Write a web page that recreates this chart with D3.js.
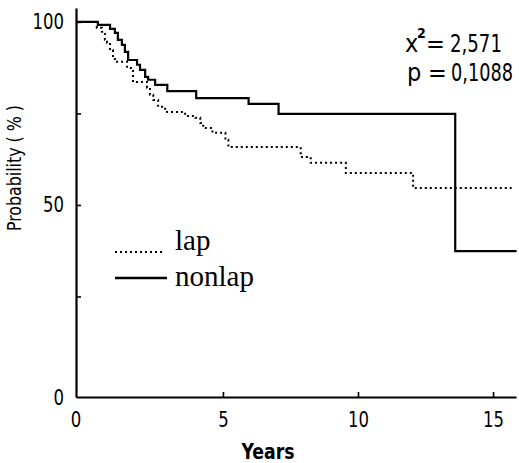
<!DOCTYPE html>
<html>
<head>
<meta charset="utf-8">
<script src="https://cdn.jsdelivr.net/npm/d3@7"></script>
<style>
  html, body { margin: 0; padding: 0; background: #fff; }
  svg { display: block; }
  .num { font-family: "DejaVu Sans Condensed", "Liberation Sans Narrow", "DejaVu Sans", sans-serif; font-stretch: condensed; fill: #000; }
  .leg { font-family: "Liberation Serif", serif; fill: #000; }
</style>
</head>
<body>
<svg id="chart" width="519" height="463"></svg>
<script>
// ---- data ----
const X_MIN = -0.44, X_MAX = 15.85;      // axis extent (years)
const Y_MIN = -2.46, Y_MAX = 103.8;      // axis extent (%)
const xTickValues = [5, 10, 15];
const xTickLabels = ["5", "10", "15"];
const yTickValues = [25, 50, 75, 100];
const yTickLabels = ["", "50", "", "100"];

const lapTimes = [0.33, 0.52, 0.63, 0.71, 0.82, 0.93, 1.0, 1.45, 1.67, 2.19, 2.30, 2.42, 2.6, 2.86, 3.6, 3.98, 4.16, 4.27, 4.61, 5.09, 5.2, 7.88, 8.25, 9.55, 12.04];
const lapSurv  = [98.4, 97.3, 95.1, 94.3, 92.3, 90.4, 89.1, 87.4, 83.6, 82.0, 80.1, 78.7, 76.8, 75.4, 74.3, 73.8, 72.4, 71.0, 69.7, 67.8, 65.8, 63.1, 61.5, 58.7, 54.6];
const lapEnd = 15.69;

const nonlapTimes = [0.37, 0.82, 1.0, 1.11, 1.26, 1.37, 1.49, 1.82, 1.93, 2.12, 2.23, 2.49, 2.94, 4.01, 5.95, 7.06, 13.6];
const nonlapSurv  = [99.2, 98.1, 97.0, 95.1, 93.7, 91.8, 89.6, 88.3, 86.9, 85.0, 84.2, 82.8, 81.1, 79.2, 77.6, 74.9, 37.4];
const nonlapEnd = 15.87;

const legendLabels = ["lap", "nonlap"];
const statNames = ["x", "p"];
const statValues = ["2,571", "0,1088"];

// ---- drawing ----
const svg = d3.select("#chart");
const x = d3.scaleLinear().domain([X_MIN, X_MAX]).range([76, 516]);
const y = d3.scaleLinear().domain([Y_MIN, Y_MAX]).range([397, 8]);
const DIGIT_W = 10.5;

function stepData(times, surv, end) {
  const pts = [{t: X_MIN, s: 100}];
  times.forEach((t, i) => pts.push({t, s: surv[i]}));
  pts.push({t: end, s: surv[surv.length - 1]});
  return pts;
}
const line = d3.line().x(d => x(d.t)).y(d => y(d.s)).curve(d3.curveStepAfter);

svg.append("path").datum(stepData(lapTimes, lapSurv, lapEnd))
  .attr("d", line).attr("fill", "none").attr("stroke", "#000")
  .attr("stroke-width", 2).attr("stroke-dasharray", "2,3");
svg.append("path").datum(stepData(nonlapTimes, nonlapSurv, nonlapEnd))
  .attr("d", line).attr("fill", "none").attr("stroke", "#000")
  .attr("stroke-width", 2.2);

function fitDigits(sel) {
  sel.each(function() {
    const t = d3.select(this).text();
    if (t.length) d3.select(this).attr("textLength", t.length * DIGIT_W).attr("lengthAdjust", "spacingAndGlyphs");
  });
}

// Y axis
const yAxis = d3.axisLeft(y).tickValues(yTickValues)
  .tickFormat((d, i) => yTickLabels[i]).tickSizeInner(-5).tickSizeOuter(0).tickPadding(12);
const gy = svg.append("g").attr("transform", "translate(76,0)").call(yAxis);
gy.select(".domain").attr("stroke-width", 2.2);
gy.selectAll(".tick line").attr("stroke-width", 1.6);
gy.selectAll(".tick text").attr("class", "num").style("font-size", "21px").call(fitDigits);
gy.append("text").attr("class", "num").attr("x", -12).attr("y", y(Y_MIN)).attr("dy", "0.36em")
  .attr("text-anchor", "end").style("font-size", "21px").text("0").call(fitDigits);

// X axis
const xAxis = d3.axisBottom(x).tickValues(xTickValues)
  .tickFormat((d, i) => xTickLabels[i]).tickSizeInner(-5).tickSizeOuter(0).tickPadding(14);
const gx = svg.append("g").attr("transform", "translate(0,397)").call(xAxis);
gx.select(".domain").attr("stroke-width", 2.2);
gx.selectAll(".tick line").attr("stroke-width", 1.6);
gx.selectAll(".tick text").attr("class", "num").style("font-size", "22px").call(fitDigits);
gx.append("text").attr("class", "num").attr("x", x(X_MIN)).attr("y", 14).attr("dy", "0.71em")
  .attr("text-anchor", "middle").style("font-size", "22px").text("0").call(fitDigits);

// axis titles
svg.append("text").attr("class", "num").attr("x", 268).attr("y", 459)
  .attr("text-anchor", "middle").style("font-size", "22px").style("font-weight", "bold")
  .attr("textLength", 53).attr("lengthAdjust", "spacingAndGlyphs").text("Years");
svg.append("text").attr("class", "num")
  .attr("transform", "translate(21,168) rotate(-90)")
  .attr("text-anchor", "middle").style("font-size", "20px")
  .attr("textLength", 126).attr("lengthAdjust", "spacingAndGlyphs")
  .text("Probability ( % )");

// statistics annotation
const statBase = [52, 81];
const statNameX = [405, 407];
const statEqX = [426, 428];
const statValX = [450, 451];
const statValW = [52, 62];
statNames.forEach((nm, i) => {
  svg.append("text").attr("class", "num").attr("x", statNameX[i]).attr("y", statBase[i])
    .style("font-size", "25px").text(nm);
  svg.append("text").attr("class", "num").attr("x", statEqX[i]).attr("y", statBase[i])
    .style("font-size", "25px").text("=");
  const g = svg.append("g");
  const tv = g.append("text").attr("class", "num").attr("x", 0).attr("y", 0)
    .style("font-size", "25px").text(statValues[i]);
  const natural = tv.node().getComputedTextLength() || statValW[i];
  g.attr("transform", `translate(${statValX[i]},${statBase[i]}) scale(${statValW[i] / natural},1)`);
  if (i === 0) {
    svg.append("text").attr("class", "num").attr("x", 417).attr("y", statBase[i] - 14)
      .style("font-size", "14px").style("font-weight", "bold").text("2");
  }
});

// legend
const legY = [250, 286];
const legSample = [252, 278];
legendLabels.forEach((lab, i) => {
  svg.append("line").attr("x1", 115).attr("x2", i === 0 ? 163 : 167)
    .attr("y1", legSample[i]).attr("y2", legSample[i])
    .attr("stroke", "#000").attr("stroke-width", i === 0 ? 2 : 2.4)
    .attr("stroke-dasharray", i === 0 ? "2,3" : null);
  svg.append("text").attr("class", "leg").attr("x", 175).attr("y", legY[i])
    .style("font-size", "29px").text(lab);
});
</script>
</body>
</html>
